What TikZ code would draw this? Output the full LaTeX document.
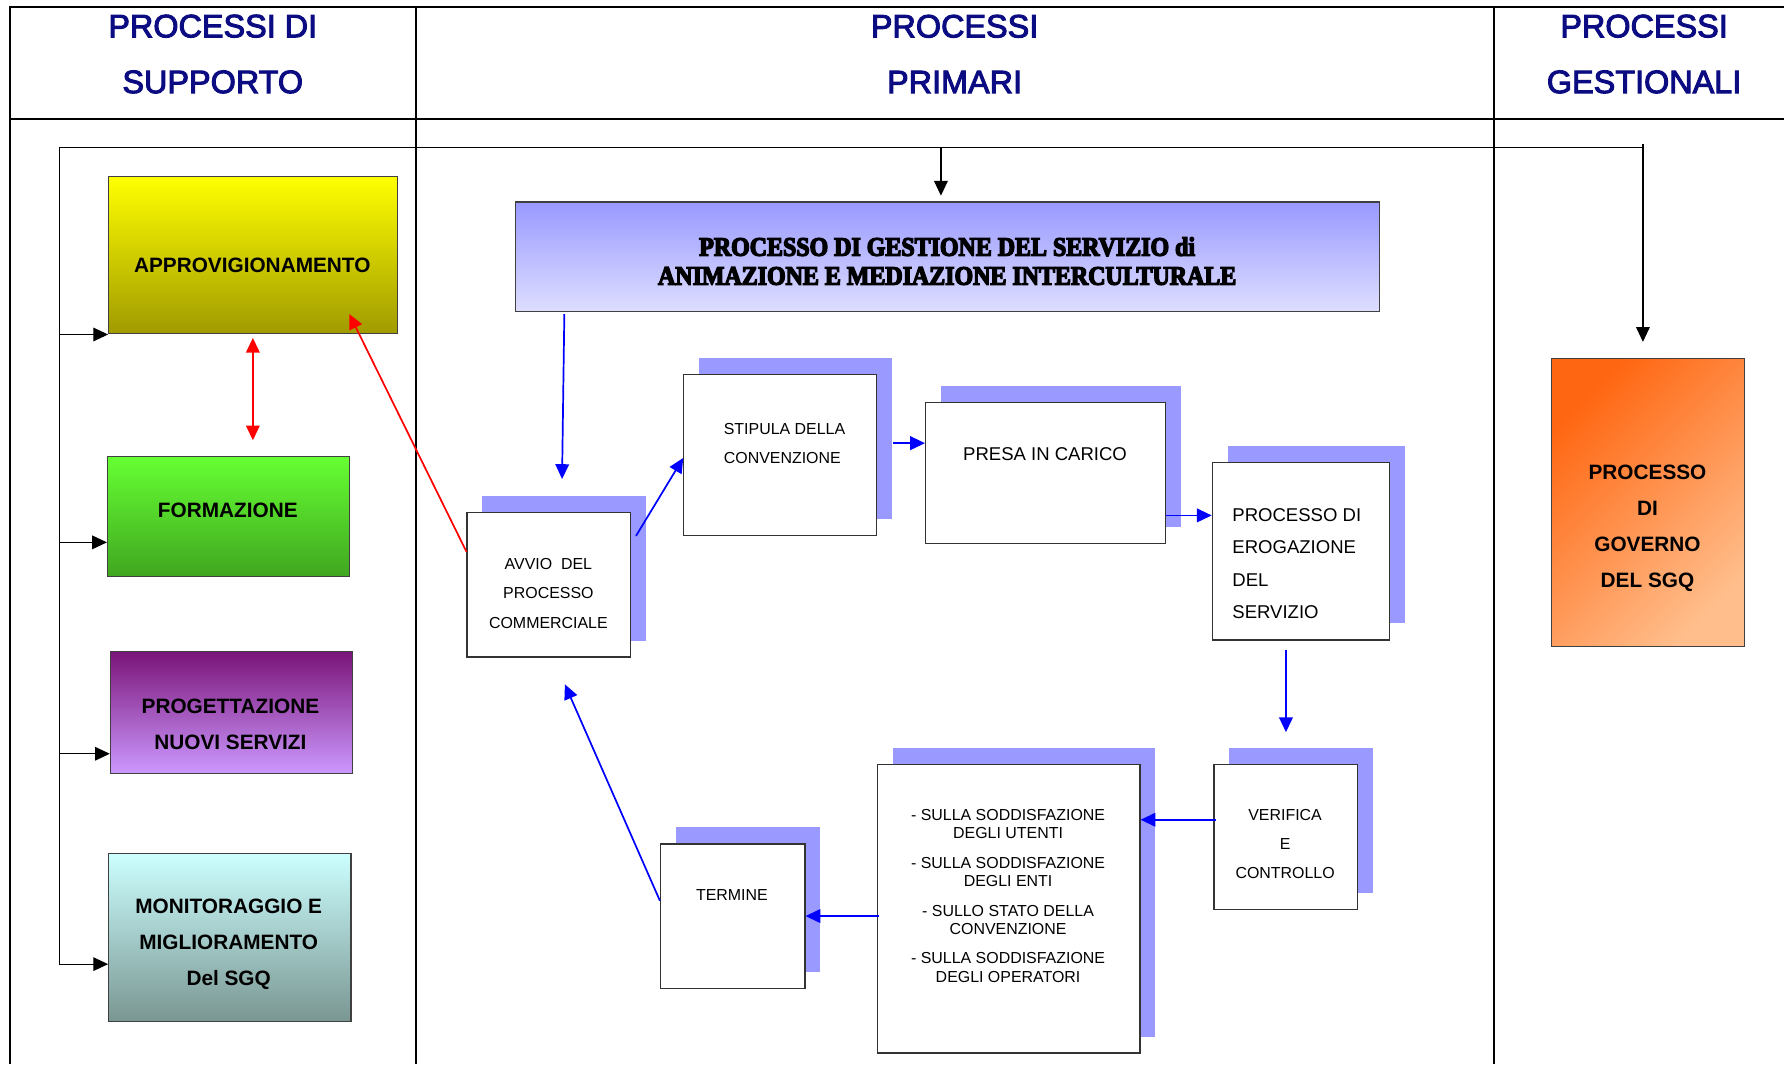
\documentclass[tikz,border=0pt]{standalone}
\usepackage{fontspec}
\setmainfont{Liberation Sans}
\newfontfamily\titlefont[FakeStretch=0.9,RawFeature={embolden=5}]{Liberation Serif}
\newfontfamily\hdrfont[RawFeature={embolden=3}]{Liberation Sans}
\usetikzlibrary{arrows.meta}

\newcommand{\pxu}{0.2mm}

\definecolor{hdrblue}{RGB}{12,12,130}
\definecolor{procshadow}{RGB}{153,153,255}
\definecolor{approvtop}{RGB}{255,255,0}
\definecolor{approvbot}{RGB}{160,154,0}
\definecolor{formtop}{RGB}{102,255,51}
\definecolor{formbot}{RGB}{64,166,32}
\definecolor{progtop}{RGB}{122,20,120}
\definecolor{progbot}{RGB}{204,153,255}
\definecolor{montop}{RGB}{204,255,255}
\definecolor{monbot}{RGB}{122,150,146}
\definecolor{titletop}{RGB}{153,153,255}
\definecolor{titlebot}{RGB}{222,222,255}
\definecolor{govtop}{RGB}{255,102,17}
\definecolor{govbot}{RGB}{255,190,140}

\tikzset{
  gridline/.style={line width=0.35mm, black},
  frameline/.style={line width=0.2mm, black},
  blkarrow/.style={frameline, -{Triangle[length=2.6mm,width=2.4mm]}},
  bluearrow/.style={line width=0.3mm, blue, -{Triangle[length=2.6mm,width=2.4mm]}},
  redarrow/.style={line width=0.3mm, red, -{Triangle[length=2.6mm,width=2.4mm]}},
  hdrtext/.style={text=hdrblue, align=center, font=\hdrfont\fontsize{16.2}{27.9}\selectfont},
  supbox/.style={draw=black!75, line width=0.2mm, anchor=north west, inner sep=0pt},
  boldtext/.style={align=center, font=\bfseries\fontsize{10.4}{17.9}\selectfont},
  procbox/.style={draw=black!80, fill=white, line width=0.2mm, anchor=north west, inner sep=0pt},
  proctext/.style={align=center, font=\fontsize{7.97}{14.7}\selectfont},
  midtext/.style={align=left, font=\fontsize{9.27}{16.2}\selectfont}
}

\begin{document}
\begin{tikzpicture}[x=0.2mm, y=-0.2mm]
\useasboundingbox (0,0) rectangle (1568,935.2);

% table and headers
\draw[gridline] (9,935.2) -- (9,6) -- (1568,6);
\draw[gridline] (9,105) -- (1568,105);
\draw[gridline] (366,6) -- (366,935.2);
\draw[gridline] (1313,6) -- (1313,935.2);

\node[hdrtext] (hsupp) at (187,47.5) {PROCESSI DI\\SUPPORTO};
\node[hdrtext] (hprim) at (839,47.5) {PROCESSI\\PRIMARI};
\node[hdrtext] (hgest) at (1445,47.5) {PROCESSI\\GESTIONALI};

% processi di supporto
\node[supbox, minimum width=253.5*\pxu, minimum height=138*\pxu, top color=approvtop, bottom color=approvbot] (approv) at (95,155) {};
\node[boldtext] (approvtxt) at (221.7,233.6) {APPROVIGIONAMENTO};

\node[supbox, minimum width=212.5*\pxu, minimum height=105.4*\pxu, top color=formtop, bottom color=formbot] (form) at (94,401) {};
\node[boldtext] (formtxt) at (200.2,448.8) {FORMAZIONE};

\node[supbox, minimum width=212.5*\pxu, minimum height=107.5*\pxu, top color=progtop, bottom color=progbot] (prog) at (96.5,572) {};
\node[boldtext] (progtxt) at (202.5,636.3) {PROGETTAZIONE\\NUOVI SERVIZI};

\node[supbox, minimum width=213*\pxu, minimum height=148*\pxu, top color=montop, bottom color=monbot] (mon) at (95,749.4) {};
\node[boldtext] (montxt) at (201,830) {MONITORAGGIO E\\MIGLIORAMENTO\\Del SGQ};

% processo gestionale
\node[supbox, minimum width=169.5*\pxu, minimum height=253.5*\pxu, top color=govtop, bottom color=govbot, shading angle=45] (gov) at (1363,314.5) {};
\node[boldtext] (govtxt) at (1448,464.4) {PROCESSO\\DI\\GOVERNO\\DEL SGQ};

% processo principale
\node[supbox, minimum width=759.5*\pxu, minimum height=96*\pxu, top color=titletop, bottom color=titlebot] (title) at (452.5,177) {};
\node[align=center, font=\titlefont\bfseries\fontsize{13.3}{14.5}\selectfont] (titletxt) at (832.5,229.5) {PROCESSO DI GESTIONE DEL SERVIZIO di\\ANIMAZIONE E MEDIAZIONE INTERCULTURALE};

\fill[procshadow] (424,436) rectangle (568,563);
\node[procbox, minimum width=144*\pxu, minimum height=127*\pxu] (avvio) at (410,450) {};
\node[proctext, font=\fontsize{7.97}{14.8}\selectfont] (avviotxt) at (482,521.5) {AVVIO\ \ DEL\\PROCESSO\\COMMERCIALE};

\fill[procshadow] (614,315) rectangle (784,456);
\node[procbox, minimum width=169.5*\pxu, minimum height=141*\pxu] (stip) at (600.5,329) {};
\node[proctext, align=left, anchor=west, font=\fontsize{7.97}{14.45}\selectfont] (stiptxt) at (630,390) {STIPULA DELLA\\CONVENZIONE};

\fill[procshadow] (827,339) rectangle (1038,463.5);
\node[procbox, minimum width=211*\pxu, minimum height=124.5*\pxu] (presa) at (813,353) {};
\node[midtext] (presatxt) at (918.5,399.3) {PRESA IN CARICO};

\fill[procshadow] (1079,392) rectangle (1235,548);
\node[procbox, minimum width=156*\pxu, minimum height=156*\pxu] (erog) at (1065,406) {};
\node[midtext, anchor=west] (erogtxt) at (1077,495.5) {PROCESSO DI\\EROGAZIONE\\DEL\\SERVIZIO};

\fill[procshadow] (1080.5,657.5) rectangle (1207,784.5);
\node[procbox, minimum width=126.5*\pxu, minimum height=127*\pxu] (verif) at (1066.5,671.5) {};
\node[proctext] (veriftxt) at (1129.5,741.8) {VERIFICA\\E\\CONTROLLO};

\fill[procshadow] (784.5,657.5) rectangle (1015.5,911);
\node[procbox, minimum width=231*\pxu, minimum height=253.5*\pxu] (list) at (770.5,671.5) {};
\node[proctext, font=\fontsize{7.97}{9.1}\selectfont] (listtxt) at (886,787.3) {- SULLA SODDISFAZIONE\\DEGLI UTENTI\\[5.7pt]- SULLA SODDISFAZIONE\\DEGLI ENTI\\[5.7pt]- SULLO STATO DELLA\\CONVENZIONE\\[5.7pt]- SULLA SODDISFAZIONE\\DEGLI OPERATORI};

\fill[procshadow] (594,727.3) rectangle (721,854);
\node[procbox, minimum width=127*\pxu, minimum height=126.7*\pxu] (term) at (580,741.3) {};
\node[proctext] (termtxt) at (643.3,786.7) {TERMINE};

% collegamenti
\coordinate (spine) at (52,130);
\coordinate (tin) at (827,130);
\coordinate (tr) at (1444,127);
\coordinate (formin) at ([yshift=-4.5mm]form.west);
\coordinate (progin) at ([yshift=-7.25mm]prog.west);
\coordinate (monin) at ([yshift=-4.7mm]mon.west);

\draw[frameline] (spine |- monin) -- (spine) -- (spine -| tr);
\draw[blkarrow] (spine |- approv.south west) -- (approv.south west);
\draw[blkarrow] (spine |- formin) -- (formin);
\draw[blkarrow] (spine |- progin) -- (progin);
\draw[blkarrow] (spine |- monin) -- (monin);
\draw[blkarrow] (tin) -- ([yshift=1mm]tin |- title.north);
\draw[blkarrow] (tr) -- ([yshift=2.8mm]tr |- gov.north);

\draw[redarrow, {Triangle[length=2.6mm,width=2.4mm]}-{Triangle[length=2.6mm,width=2.4mm]}] ([yshift=-0.6mm]approv.south) -- ([yshift=2.8mm]approv.south |- form.north);
\draw[redarrow] ([yshift=-7mm]avvio.north west) -- ([shift={(-8.5mm,3.6mm)}]approv.south east);

\draw[bluearrow] ([shift={(8.7mm,-0.4mm)}]title.south west) -- ([shift={(16.8mm,5.8mm)}]avvio.north west);
\draw[bluearrow] ([shift={(0.8mm,-4.2mm)}]avvio.north east) -- ([yshift=-0.5mm]stip.west);
\draw[bluearrow] ([shift={(2.8mm,2.1mm)}]stip.east) -- ([yshift=2.1mm]stip.east -| presa.west);
\draw[bluearrow] ([yshift=5.1mm]presa.south east) -- ([yshift=5.1mm]presa.south east -| erog.west);
\draw[bluearrow] ([yshift=-1.6mm]erog.south -| verif.north) -- ([yshift=5.6mm]verif.north);
\draw[bluearrow] ([shift={(0.5mm,3mm)}]verif.west) -- ([yshift=3mm]verif.west -| list.east);
\draw[bluearrow] ([xshift=0.5mm]list.west |- term.east) -- (term.east);
\draw[bluearrow] ([yshift=2.7mm]term.west) -- ([shift={(2.8mm,-4.7mm)}]avvio.south);
\end{tikzpicture}
\end{document}
